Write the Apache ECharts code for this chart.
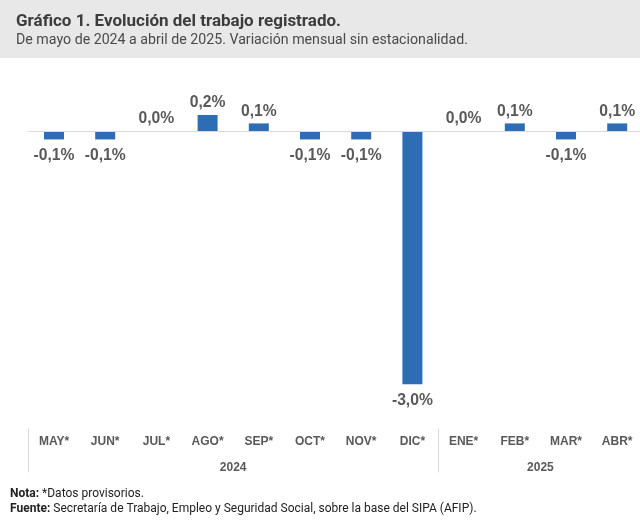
<!DOCTYPE html>
<html>
<head>
<meta charset="utf-8">
<script src="https://cdn.jsdelivr.net/npm/echarts@6/dist/echarts.min.js"></script>
<style>
html,body{margin:0;padding:0;background:#fff;}
#chart{width:640px;height:522px;}
</style>
</head>
<body>
<div id="chart"></div>
<script>
// ---- data ----
const months = ['MAY*','JUN*','JUL*','AGO*','SEP*','OCT*','NOV*','DIC*','ENE*','FEB*','MAR*','ABR*'];
const variation = [-0.1, -0.1, 0.0, 0.19, 0.09, -0.1, -0.1, -3.0, 0.0, 0.09, -0.1, 0.09];
const years = ['2024', '2025'];
const yearSpans = [8, 4];

const titleText = 'Gráfico 1. Evolución del trabajo registrado.';
const subtitleText = 'De mayo de 2024 a abril de 2025. Variación mensual sin estacionalidad.';
const noteText = '*Datos provisorios.';
const sourceText = 'Secretaría de Trabajo, Empleo y Seguridad Social, sobre la base del SIPA (AFIP).';

// derived group positions (boundaries & centres on a 0..n scale)
const yearBounds = [0];
yearSpans.forEach(s => yearBounds.push(yearBounds[yearBounds.length - 1] + s));
const yearCenters = yearSpans.map((s, i) => yearBounds[i] + s / 2);

const fmt = v => v.toFixed(1).replace('.', ',') + '%';
const gray = '#595959';
const labelFont = '"Liberation Sans", Arial, sans-serif';

const chart = echarts.init(document.getElementById('chart'));
chart.setOption({
  animation: false,
  backgroundColor: '#ffffff',
  graphic: [{
    type: 'rect', left: 0, top: 0, z: -10,
    shape: { width: 640, height: 58 },
    style: { fill: '#e8e8e8' }
  }],
  title: [
    { text: titleText, left: 16, top: 13, padding: 0,
      textStyle: { fontFamily: 'Roboto', fontWeight: 'bold', fontSize: 17, color: '#3c3c3c' } },
    { text: subtitleText, left: 16, top: 33, padding: 0,
      textStyle: { fontFamily: 'Roboto', fontWeight: 'normal', fontSize: 14.2, color: '#4a4a4a' } },
    { text: '{b|Nota:} ' + noteText + '\n{b|Fuente:} ' + sourceText, left: 10, top: 486, padding: 0,
      textStyle: { fontFamily: 'Roboto', fontWeight: 'normal', fontSize: 12, lineHeight: 15, color: '#222',
        rich: { b: { fontFamily: 'Roboto', fontWeight: 'bold', fontSize: 12, lineHeight: 15, color: '#222' } } } }
  ],
  grid: { left: 28.4, width: 614.4, top: 88.8, height: 337.6, outerBoundsMode: 'none', containLabel: false },
  xAxis: [
    { type: 'category', data: months, position: 'bottom', offset: 0,
      axisLine: { show: false }, axisTick: { show: false }, splitLine: { show: false },
      axisLabel: { interval: 0, margin: 9, fontFamily: labelFont, fontWeight: 'bold', fontSize: 12, color: gray } },
    { type: 'value', min: 0, max: yearBounds[yearBounds.length - 1], position: 'bottom', offset: 2,
      axisLine: { show: false }, splitLine: { show: false },
      axisTick: { show: true, customValues: yearBounds, length: 44, lineStyle: { color: '#d9d9d9', width: 1 } },
      axisLabel: { show: true, customValues: yearCenters, margin: 33, fontFamily: labelFont, fontWeight: 'bold', fontSize: 12, color: gray,
        formatter: v => { const i = yearCenters.indexOf(v); return i >= 0 ? years[i] : ''; } } }
  ],
  yAxis: { type: 'value', min: -3.5, max: 0.5, show: false, splitLine: { show: false } },
  series: [{
    type: 'bar',
    xAxisIndex: 0,
    barWidth: 20,
    itemStyle: { color: '#2e6db4' },
    data: variation.map(v => ({
      value: v,
      label: { position: v < 0 ? 'bottom' : 'top', distance: v < 0 ? 8 : 4 }
    })),
    label: { show: true, formatter: p => fmt(p.value), fontFamily: labelFont, fontWeight: 'bold', fontSize: 15.7, color: gray },
    markLine: {
      silent: true, symbol: 'none', label: { show: false },
      lineStyle: { color: '#d9d9d9', type: 'solid', width: 1 },
      data: [{ yAxis: 0 }]
    }
  }]
});
</script>
</body>
</html>
